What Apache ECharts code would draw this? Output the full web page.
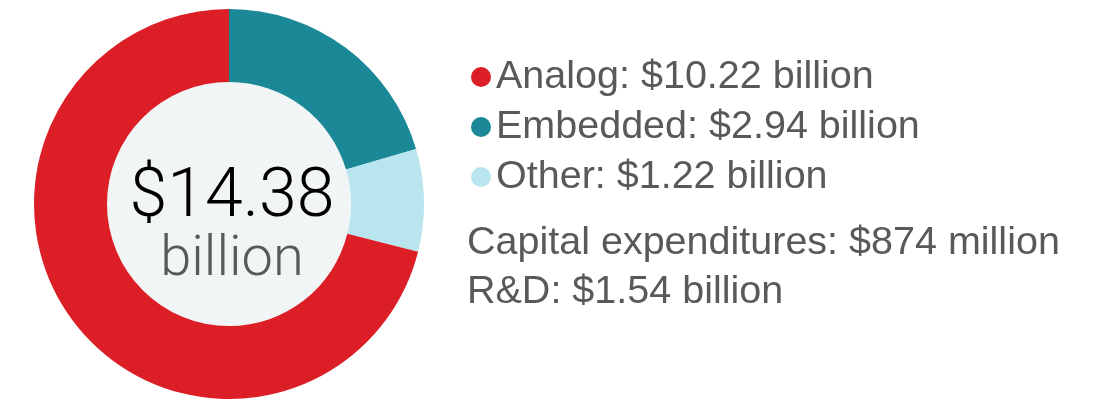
<!DOCTYPE html>
<html>
<head>
<meta charset="utf-8">
<script src="https://cdn.jsdelivr.net/npm/echarts@6/dist/echarts.min.js"></script>
<style>
  html, body { margin: 0; padding: 0; background: #fff; }
  #chart { width: 1116px; height: 403px; }
</style>
</head>
<body>
<div id="chart"></div>
<script>
// segment data (order in the ring: clockwise from 12 o'clock)
const segNames = ['Embedded', 'Other', 'Analog']
const segValues = [2.94, 1.22, 10.22]
const segColors = ['#1A8897', '#B9E5EE', '#DC1F27']

// legend order
const legendOrder = ['Analog', 'Embedded', 'Other']

// extra lines under the legend
const extraLines = [
  'Capital expenditures: $874 million',
  'R&D: $1.54 billion'
]

const total = segValues.reduce((a, b) => a + b, 0)

const chart = echarts.init(document.getElementById('chart'))

const option = {
  animation: false,
  legend: {
    data: legendOrder,
    orient: 'vertical',
    left: 466,
    top: 52,
    icon: 'circle',
    itemWidth: 20,
    itemHeight: 20,
    itemGap: 10,
    selectedMode: false,
    formatter: (name) => {
      const v = segValues[segNames.indexOf(name)]
      return name + ': $' + v.toFixed(2) + ' billion'
    },
    textStyle: {
      fontFamily: 'Liberation Sans',
      fontSize: 39.5,
      color: '#58595B',
      lineHeight: 40
    }
  },
  series: [
    {
      // inner light disk
      type: 'pie',
      silent: true,
      center: [229, 204],
      radius: [0, 122],
      label: { show: false },
      labelLine: { show: false },
      data: [{ name: 'core', value: 1, itemStyle: { color: '#F1F5F6' } }]
    },
    {
      type: 'pie',
      center: [229, 204],
      radius: [122, 195],
      startAngle: 90,
      clockwise: true,
      label: { show: false },
      labelLine: { show: false },
      itemStyle: { borderWidth: 0 },
      data: segNames.map((n, i) => ({
        name: n,
        value: segValues[i],
        itemStyle: { color: segColors[i] }
      }))
    }
  ],
  graphic: [
    {
      type: 'text',
      z: 100,
      x: 232,
      y: 199,
      style: {
        text: '$' + total.toFixed(2),
        fontFamily: 'Roboto',
        fontWeight: 300,
        fontSize: 68,
        fill: '#000',
        align: 'center',
        verticalAlign: 'middle'
      }
    },
    {
      type: 'text',
      z: 100,
      x: 232,
      y: 261,
      style: {
        text: 'billion',
        fontFamily: 'Roboto',
        fontWeight: 300,
        fontSize: 56,
        fill: '#58595B',
        align: 'center',
        verticalAlign: 'middle'
      }
    },
    ...extraLines.map((t, i) => ({
      type: 'text',
      z: 100,
      x: 467,
      y: 243 + i * 49,
      style: {
        text: t,
        fontFamily: 'Liberation Sans',
        fontSize: 39.5,
        fill: '#58595B',
        align: 'left',
        verticalAlign: 'middle'
      }
    }))
  ]
}

chart.setOption(option)
</script>
</body>
</html>
